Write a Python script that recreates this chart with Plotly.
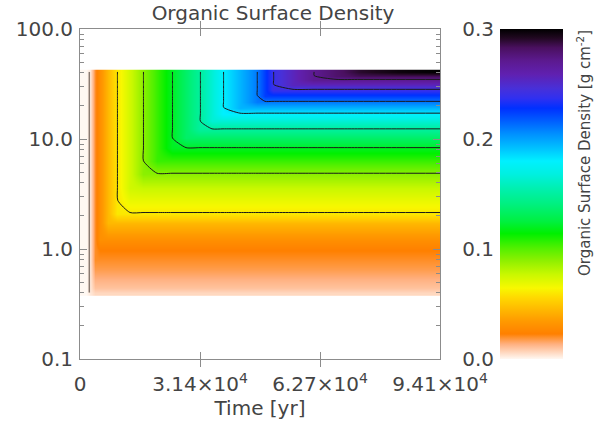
import numpy as np
import plotly.graph_objects as go

# ---- data ----
time_yr = [0, 1570, 2610, 3920, 5230, 7320, 9670, 13070, 16470, 20130, 24050, 27710,
           31370, 34500, 37380, 41820, 46270, 48360, 50450, 55680, 60900, 66920,
           73190, 83640, 94100]
growth = [0.0, 0.0, 0.003, 0.02, 0.03, 0.045, 0.06, 0.075, 0.09, 0.105, 0.12, 0.135,
          0.15, 0.165, 0.18, 0.195, 0.21, 0.225, 0.24, 0.255, 0.27, 0.28,
          0.29, 0.297, 0.30]

radius = [0.40, 0.444, 0.526, 0.647, 0.796, 0.98, 1.21, 1.48, 1.75, 2.11, 2.76, 3.62,
          4.84, 6.33, 8.29, 10.2, 12.3, 14.5, 17.1, 19.4, 21.9, 24.9, 28.2, 31.3,
          34.7, 37.7, 40.9]
plateau = [0.006, 0.010, 0.013, 0.017, 0.020, 0.023, 0.03, 0.038, 0.045, 0.06, 0.068,
           0.077, 0.09, 0.105, 0.12, 0.135, 0.15, 0.165, 0.18, 0.195, 0.21, 0.225,
           0.24, 0.255, 0.27, 0.285, 0.30]

x_tickvals = [0, 31367, 62733, 94100]
x_ticktext = ["0", "3.14×10<sup>4</sup>", "6.27×10<sup>4</sup>", "9.41×10<sup>4</sup>"]
y_tickvals = [0.1, 1, 10, 100]
y_ticktext = ["0.1", "1.0", "10.0", "100.0"]
cb_tickvals = [0.0, 0.1, 0.2, 0.3]
cb_ticktext = ["0.0", "0.1", "0.2", "0.3"]
contour_levels = dict(start=0.0605, end=0.2705, size=0.03)

# ---- build field ----
z = np.minimum.outer(np.array(plateau), np.array(growth))

cscale = [
    [0.000, "#fff8f2"], [0.045, "#ffb080"], [0.076, "#ff8000"], [0.115, "#ff9a00"],
    [0.145, "#ffb400"], [0.185, "#ffd800"], [0.215, "#f8f800"], [0.257, "#c8f800"],
    [0.297, "#90f000"], [0.337, "#50f000"], [0.380, "#00f000"], [0.417, "#00f040"],
    [0.470, "#00f080"], [0.517, "#00f0b0"], [0.560, "#00f0e0"], [0.600, "#00f0ff"],
    [0.640, "#00c0ff"], [0.682, "#0090ff"], [0.720, "#0060ff"], [0.760, "#0030ff"],
    [0.790, "#3030f0"], [0.820, "#4830d8"], [0.863, "#6020b0"], [0.903, "#5c1a90"],
    [0.943, "#4a1060"], [0.973, "#200820"], [1.000, "#000000"],
]

FONT = "DejaVu Sans"
TXT = "#444444"
AX = "#8c8c8c"
W, H = 603, 429
L = 80
T = 29
plot_w, plot_h = 360, 330
B = H - T - plot_h
paper_w = W - L
dom_x = plot_w / paper_w
cb_left = 500

fig = go.Figure()
fig.add_trace(go.Heatmap(
    x=time_yr, y=radius, z=z, zmin=0, zmax=0.3, zsmooth="best",
    colorscale=cscale, hoverinfo="skip",
    colorbar=dict(
        x=(cb_left - L) / paper_w, xanchor="left", xpad=0, ypad=0,
        y=0.5, yanchor="middle", len=1, lenmode="fraction", thickness=63,
        outlinewidth=0, showticklabels=False, ticks="",
    ),
))
fig.add_trace(go.Contour(
    x=time_yr, y=radius, z=z, showscale=False, hoverinfo="skip",
    contours=dict(coloring="none", **contour_levels),
    line=dict(color="#1a1a1a", width=1, smoothing=0.6),
))
fig.add_trace(go.Contour(
    x=time_yr, y=radius, z=z, showscale=False, hoverinfo="skip",
    contours=dict(coloring="none", start=0.0025, end=0.0025, size=1),
    line=dict(color="#8a7a70", width=1.5),
))
fig.add_trace(go.Scatter(x=[], y=[], yaxis="y2", showlegend=False, hoverinfo="skip"))

axfont = dict(family=FONT, size=20, color=TXT)
minor_vals = [v * m for m in (0.1, 1, 10) for v in range(2, 10)]
fig.update_layout(
    width=W, height=H,
    margin=dict(l=L, r=0, t=T, b=B, pad=0, autoexpand=False),
    paper_bgcolor="white", plot_bgcolor="white",
    showlegend=False,
    font=axfont,
    title=dict(text="Organic Surface Density", x=273 / W, xanchor="center",
               y=1 - 13 / H, yanchor="middle", font=dict(family=FONT, size=20, color=TXT)),
    xaxis=dict(domain=[0, dom_x], range=[0, 94100], tickvals=x_tickvals, ticktext=x_ticktext,
               ticks="inside", ticklen=7, tickcolor=AX, mirror="allticks", showline=True,
               linecolor=AX, linewidth=1, showgrid=False, zeroline=False, automargin=False,
               ticklabelstandoff=7, tickfont=axfont,
               title=dict(text="Time [yr]", font=dict(family=FONT, size=20, color=TXT), standoff=0)),
    yaxis=dict(type="log", range=[-1, 2], tickvals=y_tickvals, ticktext=y_ticktext,
               ticks="inside", ticklen=7, tickcolor=AX, mirror="allticks", showline=True,
               linecolor=AX, linewidth=1, showgrid=False, zeroline=False, automargin=False,
               ticklabelstandoff=2, tickfont=axfont,
               minor=dict(tickvals=minor_vals, ticks="inside", ticklen=4, tickcolor=AX, showgrid=False)),
    yaxis2=dict(overlaying="y", anchor="free", position=(cb_left - L) / paper_w, side="left",
                range=[0, 0.3], tickvals=cb_tickvals, ticktext=cb_ticktext, automargin=False,
                ticks="", showline=False, showgrid=False, zeroline=False,
                ticklabelstandoff=6, tickfont=axfont),
    annotations=[dict(
        text="Organic Surface Density [g cm<sup>-2</sup>]", textangle=-90,
        xref="paper", yref="paper",
        x=(584 - L) / paper_w, y=1 - (153 - T) / plot_h,
        xanchor="center", yanchor="middle", showarrow=False,
        font=dict(family=FONT, size=15, color=TXT),
    )],
)
fig.write_html("out.html", config={"displayModeBar": False},
               post_script="document.body.style.margin='0px';")
